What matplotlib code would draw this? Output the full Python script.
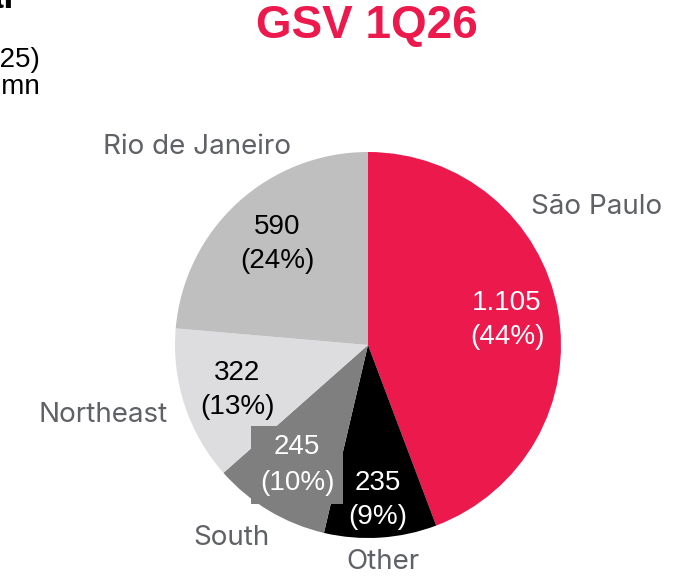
"""
GSV 1Q26 por região - gráfico de pizza
"""
import matplotlib.pyplot as plt

# dados
regions = ['São Paulo', 'Other', 'South', 'Northeast', 'Rio de Janeiro']
gsv = [1105, 235, 245, 322, 590]
value_labels = ['1.105', '235', '245', '322', '590']
pct_labels = ['44%', '9%', '10%', '13%', '24%']

colors = ['#EC194D', '#000000', '#7F7F7F', '#DDDDDF', '#BFBFBF']
inner_color = ['white', 'white', 'white', 'black', 'black']

# posições em pixels (x, y a partir do topo)
inner_pos = [(507, 320), (378, 500), (297, 465), (237, 390), (277, 244)]
outer_pos = [(597, 207), (383, 562), (231, 538), (103, 415), (197, 147)]

W, H = 674, 577
fig = plt.figure(figsize=(W / 100, H / 100), dpi=100)
ax = fig.add_axes([0, 0, 1, 1])

ax.pie(gsv, colors=colors, startangle=90, counterclock=False,
       center=(368, H - 345), radius=193, frame=True,
       wedgeprops=dict(linewidth=0))
ax.set_xlim(0, W)
ax.set_ylim(0, H)
ax.set_aspect('equal')
ax.axis('off')

for i, name in enumerate(regions):
    x, y = inner_pos[i]
    txt = f'{value_labels[i]}\n({pct_labels[i]})'
    bbox = None
    if name == 'South':
        bbox = dict(boxstyle='square,pad=0.3', fc=colors[i], ec='none')
    ax.text(x, H - y, txt, ha='center', va='center', fontsize=20,
            color=inner_color[i], family=['Liberation Sans', 'DejaVu Sans'],
            linespacing=1.45, bbox=bbox)
    ox, oy = outer_pos[i]
    ax.text(ox, H - oy, name, ha='center', va='center', fontsize=20,
            color='#5F6166', family=['Inter', 'DejaVu Sans'])

# título
ax.text(367, H - 26, 'GSV 1Q26', ha='center', va='center', fontsize=33,
        fontweight='bold', color='#EC194D', family=['Liberation Sans'])

# textos cortados à esquerda (slide original)
ax.text(14, H - 8, 'Regional', ha='right', va='baseline', fontsize=26,
        fontweight='bold', color='black', family=['Liberation Sans'])
ax.text(40, H - 73, '(vs. 1Q25)\nR$ mn', ha='right', va='center', fontsize=20,
        color='black', family=['Liberation Sans'], linespacing=1.0,
        multialignment='right')

fig.savefig('out.png', dpi=100)
